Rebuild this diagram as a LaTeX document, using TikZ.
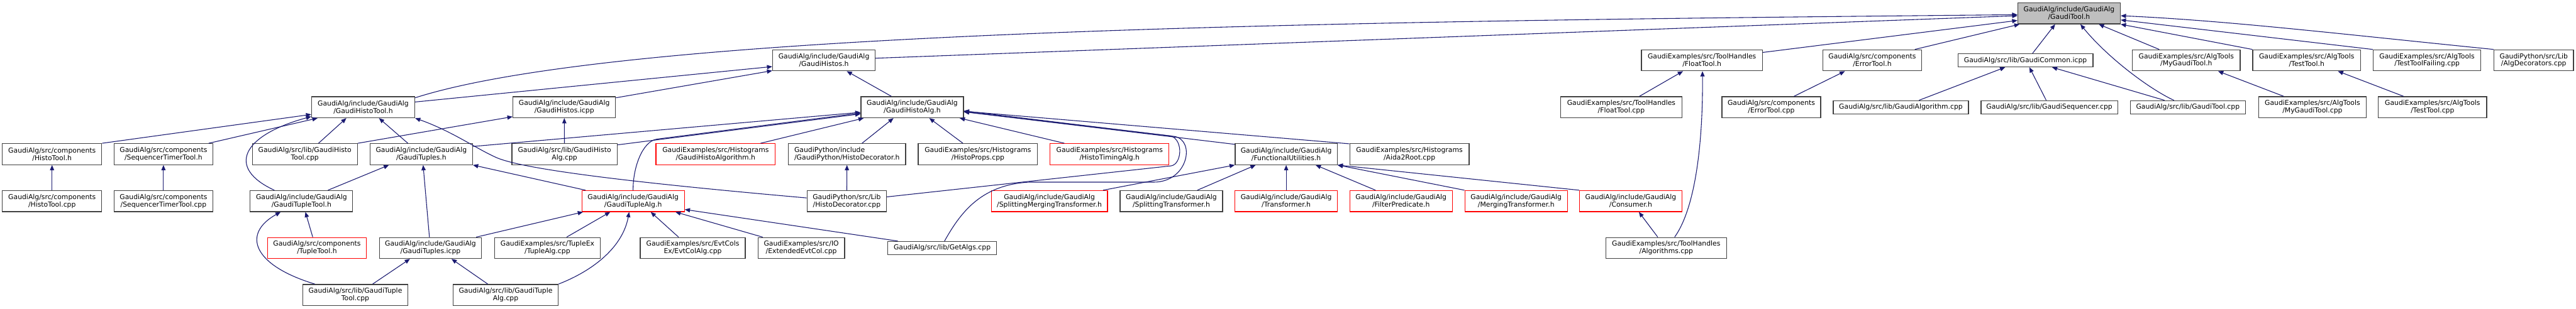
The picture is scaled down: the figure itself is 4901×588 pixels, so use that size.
\documentclass[tikz,border=0pt]{standalone}
\usepackage{fontspec}
\setmainfont{DejaVu Sans}
\usetikzlibrary{arrows.meta}
\definecolor{edgeblue}{HTML}{191970}
\definecolor{boxline}{HTML}{404040}
\definecolor{rootfill}{HTML}{BFBFBF}

\begin{document}
\begin{tikzpicture}[x=1pt,y=-1pt,font=\fontsize{12.95}{14.3}\selectfont,>={Triangle[length=10pt,width=8pt]}]
  \tikzset{filebox/.style={draw=boxline,line width=1.5pt,fill=white,inner sep=0pt,minimum height=40pt,align=center},
    redbox/.style={filebox,draw=red},
    onebox/.style={filebox,minimum height=25pt},
    incl/.style={edgeblue,line width=1.3pt,->}}
  \useasboundingbox (0,0) rectangle (4901,588);
  \node[filebox,fill=rootfill,minimum width=195pt] (tool) at (3936.5,25.5) {GaudiAlg/include/GaudiAlg\\/GaudiTool.h};
  \node[filebox,minimum width=195pt] (histos) at (1567.5,114.9) {GaudiAlg/include/GaudiAlg\\/GaudiHistos.h};
  \node[filebox,minimum width=230pt] (floath) at (3238,114.9) {GaudiExamples/src/ToolHandles\\/FloatTool.h};
  \node[filebox,minimum width=188pt] (errh) at (3562,114.9) {GaudiAlg/src/components\\/ErrorTool.h};
  \node[onebox,minimum width=257pt] (common) at (3853.5,114.9) {GaudiAlg/src/lib/GaudiCommon.icpp};
  \node[filebox,minimum width=205pt] (mytoolh) at (4159.5,114.9) {GaudiExamples/src/AlgTools\\/MyGaudiTool.h};
  \node[filebox,minimum width=205pt] (testh) at (4388.5,114.9) {GaudiExamples/src/AlgTools\\/TestTool.h};
  \node[filebox,minimum width=205pt] (failing) at (4617.5,114.9) {GaudiExamples/src/AlgTools\\/TestToolFailing.cpp};
  \node[filebox,minimum width=151pt] (algdec) at (4820.5,114.9) {GaudiPython/src/Lib\\/AlgDecorators.cpp};
  \node[filebox,minimum width=196pt] (histotool) at (691,204.3) {GaudiAlg/include/GaudiAlg\\/GaudiHistoTool.h};
  \node[filebox,minimum width=195pt] (histosicpp) at (1073.5,204.3) {GaudiAlg/include/GaudiAlg\\/GaudiHistos.icpp};
  \node[filebox,minimum width=195pt] (histoalg) at (1735.5,204.3) {GaudiAlg/include/GaudiAlg\\/GaudiHistoAlg.h};
  \node[filebox,minimum width=231pt] (floatcpp) at (3084.5,204.3) {GaudiExamples/src/ToolHandles\\/FloatTool.cpp};
  \node[filebox,minimum width=188pt] (errcpp) at (3370,204.3) {GaudiAlg/src/components\\/ErrorTool.cpp};
  \node[onebox,minimum width=257pt] (algorithm) at (3616.5,204.3) {GaudiAlg/src/lib/GaudiAlgorithm.cpp};
  \node[onebox,minimum width=260pt] (sequencer) at (3899,204.3) {GaudiAlg/src/lib/GaudiSequencer.cpp};
  \node[onebox,minimum width=219pt] (toolcpp) at (4162.5,204.3) {GaudiAlg/src/lib/GaudiTool.cpp};
  \node[filebox,minimum width=205pt] (mytoolcpp) at (4399.5,204.3) {GaudiExamples/src/AlgTools\\/MyGaudiTool.cpp};
  \node[filebox,minimum width=206pt] (testcpp) at (4628,204.3) {GaudiExamples/src/AlgTools\\/TestTool.cpp};
  \node[filebox,minimum width=189pt] (histotoolh) at (99,293.7) {GaudiAlg/src/components\\/HistoTool.h};
  \node[filebox,minimum width=188pt] (seqtimerh) at (311,293.7) {GaudiAlg/src/components\\/SequencerTimerTool.h};
  \node[filebox,minimum width=200pt] (histotoolcpp) at (580,293.7) {GaudiAlg/src/lib/GaudiHisto\\Tool.cpp};
  \node[filebox,minimum width=195pt] (tuplesh) at (801.5,293.7) {GaudiAlg/include/GaudiAlg\\/GaudiTuples.h};
  \node[filebox,minimum width=200pt] (histoalgcpp) at (1074,293.7) {GaudiAlg/src/lib/GaudiHisto\\Alg.cpp};
  \node[redbox,minimum width=227pt] (histoalgorithm) at (1361.5,293.7) {GaudiExamples/src/Histograms\\/GaudiHistoAlgorithm.h};
  \node[filebox,minimum width=223pt,align=left] (decoratorh) at (1611.5,293.7) {GaudiPython/include\\/GaudiPython/HistoDecorator.h};
  \node[filebox,minimum width=227pt] (props) at (1860.5,293.7) {GaudiExamples/src/Histograms\\/HistoProps.cpp};
  \node[redbox,minimum width=226pt] (timing) at (2111,293.7) {GaudiExamples/src/Histograms\\/HistoTimingAlg.h};
  \node[filebox,minimum width=194pt] (functional) at (2447,293.7) {GaudiAlg/include/GaudiAlg\\/FunctionalUtilities.h};
  \node[filebox,minimum width=227pt] (aida) at (2681.5,293.7) {GaudiExamples/src/Histograms\\/Aida2Root.cpp};
  \node[filebox,minimum width=189pt] (histotoolimpl) at (99,383.1) {GaudiAlg/src/components\\/HistoTool.cpp};
  \node[filebox,minimum width=188pt] (seqtimerimpl) at (311,383.1) {GaudiAlg/src/components\\/SequencerTimerTool.cpp};
  \node[filebox,minimum width=195pt] (tupletoolh) at (573.5,383.1) {GaudiAlg/include/GaudiAlg\\/GaudiTupleTool.h};
  \node[redbox,minimum width=195pt] (tuplealgh) at (1204.5,383.1) {GaudiAlg/include/GaudiAlg\\/GaudiTupleAlg.h};
  \node[filebox,minimum width=151pt] (decoratorcpp) at (1611,383.1) {GaudiPython/src/Lib\\/HistoDecorator.cpp};
  \node[redbox,minimum width=221pt] (splitmerge) at (1996.5,383.1) {GaudiAlg/include/GaudiAlg\\/SplittingMergingTransformer.h};
  \node[filebox,minimum width=195pt] (splitting) at (2228.5,383.1) {GaudiAlg/include/GaudiAlg\\/SplittingTransformer.h};
  \node[redbox,minimum width=195pt] (transformer) at (2447,383.1) {GaudiAlg/include/GaudiAlg\\/Transformer.h};
  \node[redbox,minimum width=195pt] (filter) at (2665.5,383.1) {GaudiAlg/include/GaudiAlg\\/FilterPredicate.h};
  \node[redbox,minimum width=195pt] (merging) at (2884.5,383.1) {GaudiAlg/include/GaudiAlg\\/MergingTransformer.h};
  \node[redbox,minimum width=195pt] (consumer) at (3102.5,383.1) {GaudiAlg/include/GaudiAlg\\/Consumer.h};
  \node[redbox,minimum width=188pt] (tupletool) at (603,472.5) {GaudiAlg/src/components\\/TupleTool.h};
  \node[filebox,minimum width=194pt] (tuplesicpp) at (819,472.5) {GaudiAlg/include/GaudiAlg\\/GaudiTuples.icpp};
  \node[filebox,minimum width=201pt] (tuplealgex) at (1041.5,472.5) {GaudiExamples/src/TupleEx\\/TupleAlg.cpp};
  \node[filebox,minimum width=200pt] (evtcol) at (1318,472.5) {GaudiExamples/src/EvtCols\\Ex/EvtColAlg.cpp};
  \node[filebox,minimum width=165pt] (extended) at (1524.5,472.5) {GaudiExamples/src/IO\\/ExtendedEvtCol.cpp};
  \node[onebox,minimum width=207pt] (getalgs) at (1792.5,472.5) {GaudiAlg/src/lib/GetAlgs.cpp};
  \node[filebox,minimum width=230pt] (algorithms) at (3170,472.5) {GaudiExamples/src/ToolHandles\\/Algorithms.cpp};
  \node[filebox,minimum width=200pt] (tupletoolcpp) at (676,561.9) {GaudiAlg/src/lib/GaudiTuple\\Tool.cpp};
  \node[filebox,minimum width=200pt] (tuplealgcpp) at (962,561.9) {GaudiAlg/src/lib/GaudiTuple\\Alg.cpp};
  \draw[incl] ([yshift=18pt]histotool.east) .. controls (1200,55) and (2600,40) .. ([yshift=-2.5pt]tool.west);
  \draw[incl] ([yshift=4pt]histos.east)--([yshift=-4.5pt]tool.west);
  \draw[incl] ([yshift=15pt]floath.east)--([yshift=-13.5pt]tool.west);
  \draw[incl] ([xshift=81pt]errh.north)--([xshift=4pt]tool.south west);
  \draw[incl] ([xshift=13.5pt]common.north)--([xshift=-26.5pt]tool.south);
  \draw[incl] ([xshift=-26.5pt]toolcpp.north) .. controls (4090,170) and (4010,110) .. ([xshift=21.5pt]tool.south);
  \draw[incl] ([xshift=-51.5pt]mytoolh.north)--([xshift=56.5pt]tool.south);
  \draw[incl] (testh.north west)--(tool.south east);
  \draw[incl] (failing.north west)--([yshift=-12.5pt]tool.east);
  \draw[incl] (algdec.north west) .. controls (4445,64) and (4234,39) .. ([yshift=-4.5pt]tool.east);
  \draw[incl] (histotoolh.north east)--([yshift=-13.7pt]histotool.west);
  \draw[incl] ([xshift=86pt]seqtimerh.north)--([xshift=12pt]histotool.south west);
  \draw[incl] ([xshift=-51.5pt]tupletoolh.north) .. controls (430,320) and (460,258) .. ([yshift=-17.7pt]histotool.west);
  \draw[incl] ([xshift=26pt]histotoolcpp.north)--([xshift=-32pt]histotool.south);
  \draw[incl] ([xshift=-25.5pt]tuplesh.north)--([xshift=30pt]histotool.south);
  \draw[incl] ([yshift=6pt]decoratorcpp.west) .. controls (1250,352) and (1000,325) .. (944,300) .. controls (904,282) and (860,250) .. (histotool.south east);
  \draw[incl] ([yshift=10pt]histotool.east)--([yshift=-12pt]histos.west);
  \draw[incl] ([yshift=18pt]histosicpp.east)--([yshift=1pt]histos.south west);
  \draw[incl] ([xshift=-39.5pt]histoalg.north)--([xshift=43.5pt]histos.south);
  \draw[incl] (histotoolcpp.north east)--([yshift=-18pt]histosicpp.west);
  \draw[incl] (histoalgcpp)--(histosicpp);
  \draw[incl] ([xshift=50.5pt]tupletoolh.north)--([xshift=-61.5pt]tuplesh.south);
  \draw[incl] ([xshift=-2pt]tuplesicpp.north)--([xshift=3.5pt]tuplesh.south);
  \draw[incl] ([xshift=-90.5pt]tuplealgh.north)--(tuplesh.south east);
  \draw[incl] ([yshift=14.7pt]tuplesh.east)--([yshift=-9.7pt]histoalg.west);
  \draw[incl] ([yshift=17.7pt]histoalgcpp.east)--([yshift=-12.7pt]histoalg.west);
  \draw[incl] (tuplealgh.north) .. controls (1204,320) and (1222,269) .. (1250,265)--([yshift=-11pt]histoalg.west);
  \draw[incl] ([xshift=85.5pt]histoalgorithm.north)--([xshift=6pt]histoalg.south west);
  \draw[incl] ([xshift=28.5pt]decoratorh.north)--([xshift=-35.5pt]histoalg.south);
  \draw[incl] ([xshift=-28.5pt]props.north)--([xshift=32.5pt]histoalg.south);
  \draw[incl] ([xshift=-86pt]timing.north)--([xshift=-8pt]histoalg.south east);
  \draw[incl] ([yshift=-2pt]functional.north west)--([yshift=-8.7pt]histoalg.east);
  \draw[incl] ([yshift=-1pt]aida.north west)--([yshift=-7.7pt]histoalg.east);
  \draw[incl] ([yshift=8pt]decoratorcpp.east)--(2228,316) .. controls (2248,313) and (2252,268) .. (2228,259)--([yshift=-8.7pt]histoalg.east);
  \draw[incl] ([xshift=4.5pt]getalgs.north) .. controls (1830,400) and (1870,352) .. (1958,347)--(2195,347) .. controls (2260,347) and (2275,268) .. (2235,260)--([yshift=-7pt]histoalg.east);
  \draw[incl] ([xshift=-77pt]tupletoolcpp.north) .. controls (480,505) and (460,445) .. ([xshift=-39.5pt]tupletoolh.south);
  \draw[incl] ([xshift=-8pt]tupletool.north)--([xshift=7.5pt]tupletoolh.south);
  \draw[incl] ([xshift=87pt]tuplesicpp.north)--([xshift=3pt]tuplealgh.south west);
  \draw[incl] ([xshift=36.5pt]tuplealgex.north)--([xshift=-43.5pt]tuplealgh.south);
  \draw[incl] (tuplealgcpp.north east) .. controls (1130,515) and (1185,470) .. ([xshift=-7.5pt]tuplealgh.south);
  \draw[incl] ([xshift=-27pt]evtcol.north)--([xshift=33.5pt]tuplealgh.south);
  \draw[incl] ([xshift=-73.5pt]extended.north)--([xshift=80.5pt]tuplealgh.south);
  \draw[incl] ([xshift=-84.5pt]getalgs.north)--([yshift=-16pt]tuplealgh.east);
  \draw[incl] ([xshift=33pt]tupletoolcpp.north)--([xshift=-39pt]tuplesicpp.south);
  \draw[incl] ([xshift=-34pt]tuplealgcpp.north)--([xshift=40pt]tuplesicpp.south);
  \draw[incl] (histotoolimpl)--(histotoolh);
  \draw[incl] (seqtimerimpl)--(seqtimerh);
  \draw[incl] (decoratorcpp)--(decoratorh);
  \draw[incl] ([xshift=-9pt]splitmerge.north east)--(functional.south west);
  \draw[incl] ([xshift=49.5pt]splitting.north)--([xshift=-58pt]functional.south);
  \draw[incl] (transformer)--(functional);
  \draw[incl] ([xshift=-48.5pt]filter.north)--([xshift=56pt]functional.south);
  \draw[incl] (merging.north west)--(functional.south east);
  \draw[incl] (consumer.north west)--(functional.south east);
  \draw[incl] ([xshift=-16pt]algorithms.north)--([xshift=15.5pt]consumer.south);
  \draw[incl] ([xshift=16pt]algorithms.north) .. controls (3230,390) and (3240,250) .. ([xshift=1pt]floath.south);
  \draw[incl] ([xshift=34.5pt]floatcpp.north)--([xshift=-36pt]floath.south);
  \draw[incl] ([xshift=43pt]errcpp.north)--([xshift=-52pt]errh.south);
  \draw[incl] ([xshift=34.5pt]algorithm.north)--([xshift=-38.5pt]common.south);
  \draw[incl] ([xshift=-6pt]sequencer.north)--([xshift=7.5pt]common.south);
  \draw[incl] ([xshift=-44.5pt]toolcpp.north)--([xshift=50.5pt]common.south);
  \draw[incl] ([xshift=-54.5pt]mytoolcpp.north)--([xshift=60.5pt]mytoolh.south);
  \draw[incl] ([xshift=-55pt]testcpp.north)--([xshift=59.5pt]testh.south);
\end{tikzpicture}
\end{document}
